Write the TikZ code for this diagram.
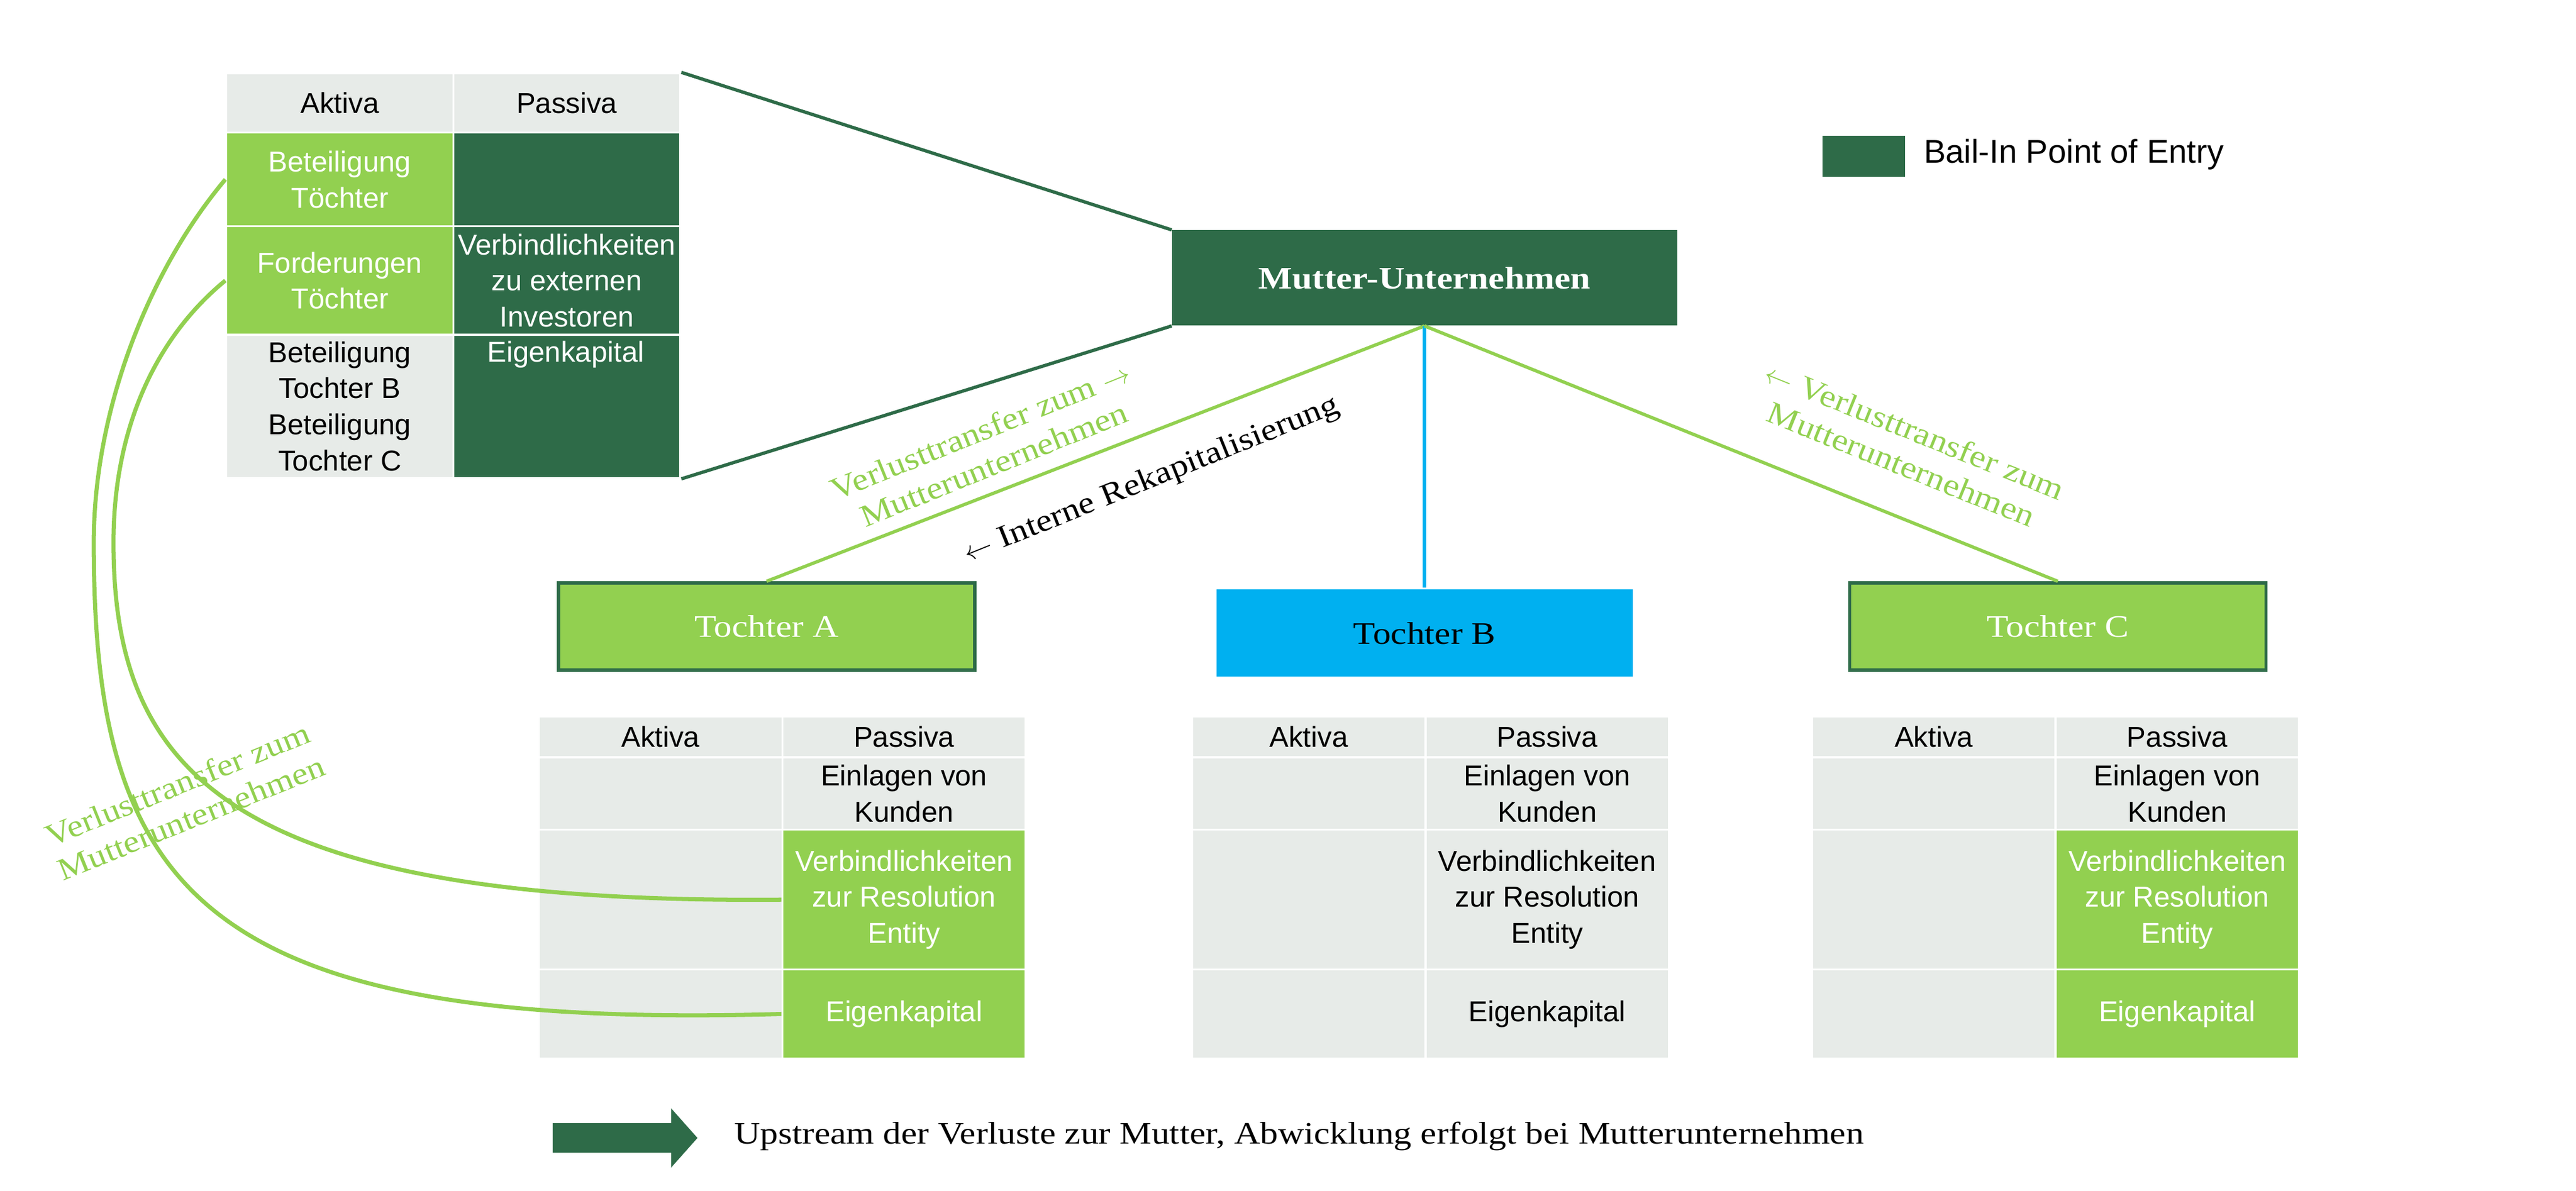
\documentclass[tikz,border=0pt]{standalone}
\usepackage{fontspec}
\setmainfont{Liberation Serif}[FakeStretch=1.15]
\setsansfont{Liberation Sans}
\usetikzlibrary{positioning}
\definecolor{dg}{RGB}{46,107,72}
\definecolor{lg}{RGB}{146,208,80}
\definecolor{gr}{RGB}{231,235,232}
\definecolor{cy}{RGB}{0,176,240}
\begin{document}
\begin{tikzpicture}[x=1pt,y=-1pt,
 cell/.style={anchor=north west,draw=white,line width=1.2pt,inner sep=1pt,align=center,font=\sffamily\fontsize{17.5}{22}\selectfont},
 lab/.style={font=\fontsize{19}{22}\selectfont,align=center},
 tbox/.style={draw=dg,line width=2pt,fill=lg,text=white,font=\fontsize{19}{22}\selectfont,minimum width=253pt,minimum height=53pt}]
\useasboundingbox (0,0) rectangle (1566,724);
% top table
\node[cell,fill=gr,minimum width=138pt,minimum height=36pt] (ta) at (137,44) {Aktiva};
\node[cell,fill=gr,minimum width=138pt,minimum height=36pt] (tp) at (275,44) {Passiva};
\node[cell,fill=lg,text=white,minimum width=138pt,minimum height=57pt] (a1) at (137,80) {Beteiligung\\Töchter};
\node[cell,fill=dg,minimum width=138pt,minimum height=57pt] (p1) at (275,80) {};
\node[cell,fill=lg,text=white,minimum width=138pt,minimum height=66pt] (a2) at (137,137) {Forderungen\\Töchter};
\node[cell,fill=dg,text=white,minimum width=138pt,minimum height=66pt] (p2) at (275,137) {Verbindlichkeiten\\zu externen\\Investoren};
\node[cell,fill=gr,minimum width=138pt,minimum height=87pt] (a3) at (137,203) {Beteiligung\\Tochter B\\Beteiligung\\Tochter C};
\node[cell,fill=dg,minimum width=138pt,minimum height=87pt] (p3) at (275,203) {};
\node[font=\sffamily\fontsize{17.5}{22}\selectfont,text=white,anchor=north] (p3t) at (344,204) {Eigenkapital};
% mother
\node[fill=dg,text=white,font=\bfseries\fontsize{19}{22}\selectfont,minimum width=307pt,minimum height=58pt] (m) at (866,169) {Mutter-Unternehmen};
\draw[dg,line width=2pt] (tp.north east) -- (m.north west);
\draw[dg,line width=2pt] (p3.south east) -- (m.south west);
% legend
\node[fill=dg,minimum width=50pt,minimum height=25pt] (lg) at (1133,95) {};
\node[anchor=west,font=\sffamily\fontsize{20}{24}\selectfont] (lgt) at (1166,94) {Bail-In Point of Entry};
% daughters
\node[tbox] (A) at (466,381) {Tochter A};
\node[tbox,draw=none,fill=cy,text=black] (B) at (866,385) {Tochter B};
\node[tbox] (C) at (1251,381) {Tochter C};
\draw[lg,line width=2pt] (m.south) -- (A.north);
\draw[cy,line width=2pt] (m.south) -- (B.north);
\draw[lg,line width=2pt] (m.south) -- (C.north);
% bottom tables
\foreach \n/\x/\w/\c/\t in {A/327/148/lg/white,B/724/142/gr/black,C/1101/148/lg/white}{
 \node[cell,fill=gr,minimum width=\w pt,minimum height=25pt] (\n ha) at (\x,435) {Aktiva};
 \node[cell,fill=gr,minimum width=148pt,minimum height=25pt] (\n hp) at (\x+\w,435) {Passiva};
 \node[cell,fill=gr,minimum width=\w pt,minimum height=44pt] (\n a1) at (\x,460) {};
 \node[cell,fill=gr,minimum width=148pt,minimum height=44pt] (\n p1) at (\x+\w,460) {Einlagen von\\Kunden};
 \node[cell,fill=gr,minimum width=\w pt,minimum height=85pt] (\n a2) at (\x,504) {};
 \node[cell,fill=\c,text=\t,minimum width=148pt,minimum height=85pt] (\n p2) at (\x+\w,504) {Verbindlichkeiten\\zur Resolution\\Entity};
 \node[cell,fill=gr,minimum width=\w pt,minimum height=54pt] (\n a3) at (\x,589) {};
 \node[cell,fill=\c,text=\t,minimum width=148pt,minimum height=54pt] (\n p3) at (\x+\w,589) {Eigenkapital};
}
% curves
\coordinate (o1) at (57,330);
\coordinate (o2) at (69,330);
\draw[lg,line width=2.5pt] (a1.west) .. controls (90,165) and (57,250) .. (o1) .. controls (57,540) and (120,627) .. (Ap3.west);
\draw[lg,line width=2.5pt] (a2.west) .. controls (95,205) and (69,260) .. (o2) .. controls (69,470) and (140,550) .. (Ap2.west);
% labels
\node[lab,text=lg,rotate=22] (l1) at (112,487) {Verlusttransfer zum\\Mutterunternehmen};
\node[lab,text=lg,rotate=22] (l2) at (600,272) {Verlusttransfer zum $\rightarrow$\\Mutterunternehmen};
\node[lab,rotate=22] (l3) at (700,292) {$\leftarrow$ Interne Rekapitalisierung};
\node[lab,text=lg,rotate=-22] (l4) at (1160,272) {$\leftarrow$ Verlusttransfer zum\\Mutterunternehmen};
% bottom arrow
\fill[dg] (336,683) -- (408,683) -- (408,674) -- (424,692) -- (408,710) -- (408,701) -- (336,701) -- cycle;
\node[anchor=west,font=\fontsize{19}{22}\selectfont] (bt) at (443,691) {Upstream der Verluste zur Mutter, Abwicklung erfolgt bei Mutterunternehmen};
\end{tikzpicture}
\end{document}
